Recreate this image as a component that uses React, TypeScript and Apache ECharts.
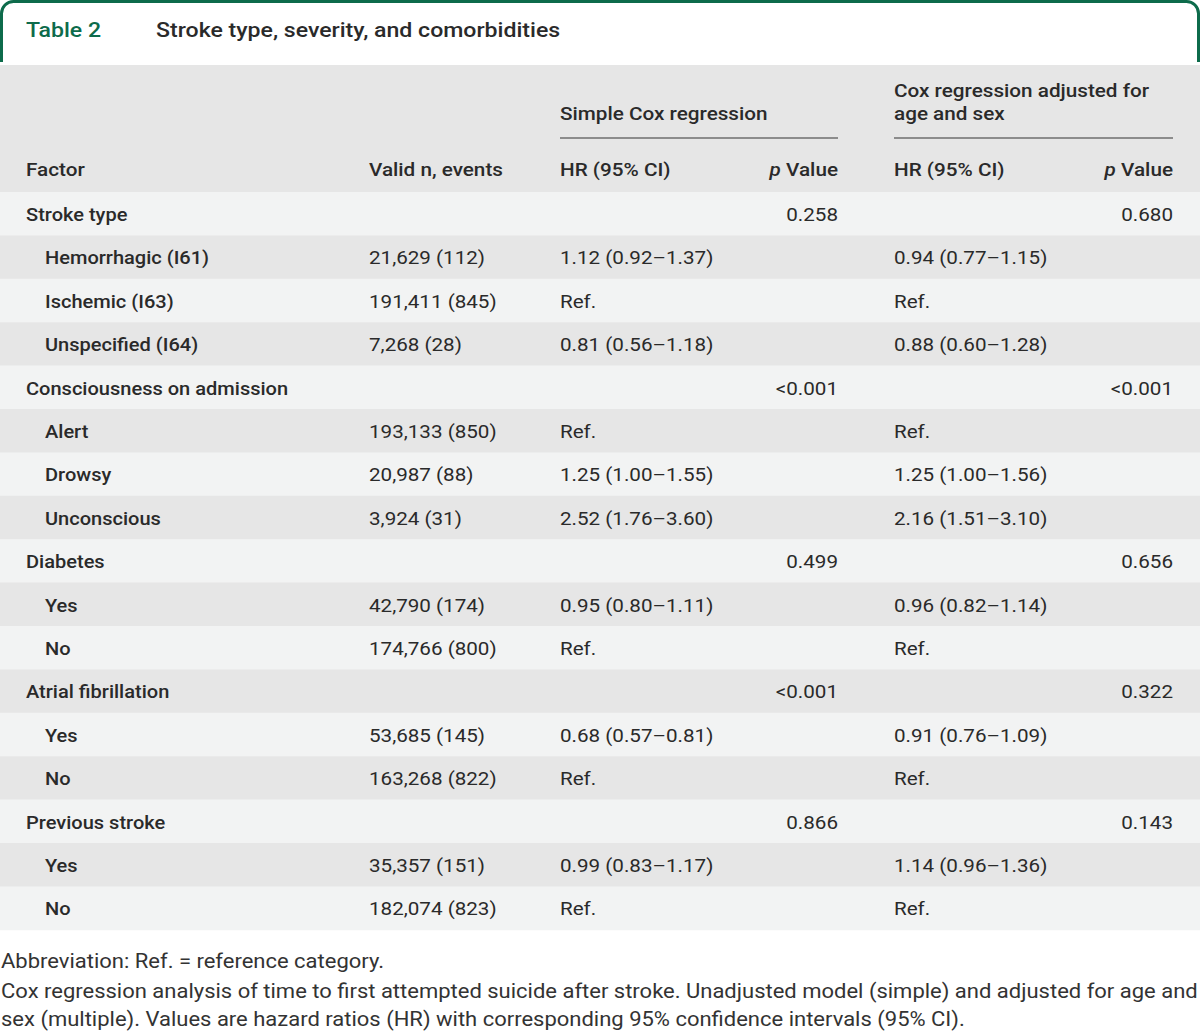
import React, { useEffect, useRef } from "react";
import * as echarts from "echarts";

const tableNumber = "Table 2";
const tableTitle = "Stroke type, severity, and comorbidities";
const groupHeaderSimple = ["Simple Cox regression"];
const groupHeaderAdjusted = ["Cox regression adjusted for", "age and sex"];
const columnHeaders = ["Factor", "Valid n, events", "HR (95% CI)", "p Value", "HR (95% CI)", "p Value"];

const factors = [
  "Stroke type", "Hemorrhagic (I61)", "Ischemic (I63)", "Unspecified (I64)",
  "Consciousness on admission", "Alert", "Drowsy", "Unconscious",
  "Diabetes", "Yes", "No",
  "Atrial fibrillation", "Yes", "No",
  "Previous stroke", "Yes", "No",
];
const isGroup = [true, false, false, false, true, false, false, false, true, false, false, true, false, false, true, false, false];
const validN = [
  "", "21,629 (112)", "191,411 (845)", "7,268 (28)",
  "", "193,133 (850)", "20,987 (88)", "3,924 (31)",
  "", "42,790 (174)", "174,766 (800)",
  "", "53,685 (145)", "163,268 (822)",
  "", "35,357 (151)", "182,074 (823)",
];
const hrSimple = [
  "", "1.12 (0.92–1.37)", "Ref.", "0.81 (0.56–1.18)",
  "", "Ref.", "1.25 (1.00–1.55)", "2.52 (1.76–3.60)",
  "", "0.95 (0.80–1.11)", "Ref.",
  "", "0.68 (0.57–0.81)", "Ref.",
  "", "0.99 (0.83–1.17)", "Ref.",
];
const pSimple = ["0.258", "", "", "", "<0.001", "", "", "", "0.499", "", "", "<0.001", "", "", "0.866", "", ""];
const hrAdjusted = [
  "", "0.94 (0.77–1.15)", "Ref.", "0.88 (0.60–1.28)",
  "", "Ref.", "1.25 (1.00–1.56)", "2.16 (1.51–3.10)",
  "", "0.96 (0.82–1.14)", "Ref.",
  "", "0.91 (0.76–1.09)", "Ref.",
  "", "1.14 (0.96–1.36)", "Ref.",
];
const pAdjusted = ["0.680", "", "", "", "<0.001", "", "", "", "0.656", "", "", "0.322", "", "", "0.143", "", ""];
const footnotes = [
  "Abbreviation: Ref. = reference category.",
  "Cox regression analysis of time to first attempted suicide after stroke. Unadjusted model (simple) and adjusted for age and",
  "sex (multiple). Values are hazard ratios (HR) with corresponding 95% confidence intervals (95% CI).",
];

const FONT = "Roboto, 'Liberation Sans', sans-serif";
const GREEN = "#0d6b4b";
const TEXT = "#2a2a2a";

export default function App() {
  const ref = useRef<HTMLDivElement>(null);
  useEffect(() => {
    if (!ref.current) return;
    const chart = echarts.init(ref.current, undefined, { renderer: "svg" });
    const g: any[] = [];
    const W = 1200;
    const txt = (x: number, y: number, text: string, font: string, sx: number, extra: any = {}) =>
      g.push({ type: "text", x, y, scaleX: sx, style: { text, font, fill: TEXT, verticalAlign: "middle", ...extra } });

    g.push({ type: "rect", shape: { x: 1.5, y: 1.5, width: W - 3, height: 90, r: [12, 12, 0, 0] }, style: { fill: "#fff", stroke: GREEN, lineWidth: 3 } });
    g.push({ type: "rect", shape: { x: 0, y: 62, width: W, height: 40 }, style: { fill: "#fff" } });
    txt(26, 30, tableNumber, `500 21px ${FONT}`, 1.1, { fill: GREEN });
    txt(156, 30, tableTitle, `500 21px ${FONT}`, 1.1);
    g.push({ type: "rect", shape: { x: 0, y: 65, width: W, height: 127 }, style: { fill: "#e6e6e6" } });
    const hfont = `500 19px ${FONT}`;
    const HS = 1.09;
    txt(560, 114, groupHeaderSimple[0], hfont, HS);
    txt(894, 91, groupHeaderAdjusted[0], hfont, HS);
    txt(894, 114, groupHeaderAdjusted[1], hfont, HS);
    g.push({ type: "line", shape: { x1: 560, y1: 138, x2: 838, y2: 138 }, style: { stroke: "#333", lineWidth: 1 } });
    g.push({ type: "line", shape: { x1: 894, y1: 138, x2: 1173, y2: 138 }, style: { stroke: "#333", lineWidth: 1 } });
    const colX = [26, 369, 560, 838, 894, 1173];
    columnHeaders.forEach((h, i) => {
      const right = i === 3 || i === 5;
      if (right) {
        txt(colX[i], 170, "{i|p} Value", hfont, HS, { align: "right", rich: { i: { font: `italic 500 19px ${FONT}`, fill: TEXT } } });
      } else {
        txt(colX[i], 170, h, hfont, HS);
      }
    });
    const top = 192;
    const rowH = 43.4;
    const bfont = `500 19px ${FONT}`;
    const rfont = `400 19px ${FONT}`;
    factors.forEach((f, i) => {
      const y0 = top + i * rowH;
      g.push({ type: "rect", shape: { x: 0, y: y0, width: W, height: rowH + 0.5 }, style: { fill: i % 2 === 0 ? "#f2f3f3" : "#e6e6e6" } });
      const cy = y0 + rowH / 2 + 1;
      txt(isGroup[i] ? 26 : 45, cy, f, bfont, 1.055);
      const cells = [validN[i], hrSimple[i], pSimple[i], hrAdjusted[i], pAdjusted[i]];
      const xs = [369, 560, 838, 894, 1173];
      cells.forEach((c, j) => {
        if (!c) return;
        txt(xs[j], cy, c, rfont, 1.085, { align: j === 2 || j === 4 ? "right" : "left" });
      });
    });
    const fy = [961, 991, 1019];
    footnotes.forEach((t, i) => {
      txt(1, fy[i], t, `400 20px ${FONT}`, 1.1, { fill: "#333" });
    });
    chart.setOption({ animation: false, graphic: { elements: g } });
    return () => chart.dispose();
  }, []);
  return <div ref={ref} style={{ width: 1200, height: 1032, position: "absolute", left: 0, top: 0 }} />;
}
